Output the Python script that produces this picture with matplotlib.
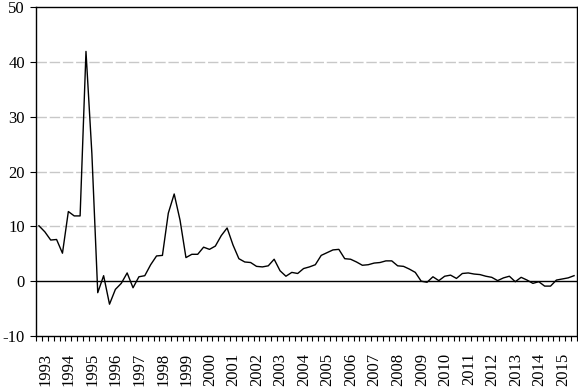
import matplotlib
matplotlib.use("Agg")
import matplotlib.pyplot as plt
import numpy as np

years = list(range(1993, 2016))
values = [10.1, 9.0, 7.5, 7.6, 5.1, 12.7, 11.9, 11.9, 41.9, 23.3,
          -2.1, 1.0, -4.2, -1.5, -0.4, 1.5, -1.2, 0.8, 1.0, 3.0,
          4.6, 4.7, 12.4, 15.9, 11.1, 4.3, 4.9, 4.9, 6.2, 5.8,
          6.4, 8.3, 9.7, 6.6, 4.1, 3.5, 3.4, 2.7, 2.6, 2.8,
          4.0, 1.9, 0.9, 1.6, 1.4, 2.3, 2.6, 3.0, 4.7, 5.2,
          5.7, 5.8, 4.1, 4.0, 3.5, 2.9, 3.0, 3.3, 3.4, 3.7,
          3.7, 2.8, 2.7, 2.2, 1.6, 0.0, -0.2, 0.8, 0.1, 0.9,
          1.1, 0.5, 1.4, 1.5, 1.3, 1.2, 0.9, 0.7, 0.1, 0.6,
          0.9, -0.1, 0.7, 0.2, -0.4, -0.1, -0.9, -0.9, 0.2, 0.4,
          0.6, 1.0]
y_ticks = [-10, 0, 10, 20, 30, 40, 50]

plt.rcParams['font.family'] = ['Liberation Serif', 'DejaVu Serif']

W, H = 578, 390
fig = plt.figure(figsize=(W / 100, H / 100), dpi=100)
ax = fig.add_axes([36 / W, (H - 336) / H, (577 - 36) / W, (336 - 7) / H])

n = len(values)
x = np.arange(n)
for g in [10, 20, 30, 40]:
    ax.axhline(g, color='#c8c8c8', lw=1.0, dashes=(7.5, 2.0), zorder=1)
ax.axhline(0, color='black', lw=1.0, zorder=2)
ax.plot(x, values, color='black', lw=1.0, zorder=3)

ax.set_xlim(-0.5, n - 0.5)
ax.set_ylim(-10, 50)
ax.set_yticks(y_ticks)
ax.set_yticklabels([str(v) for v in y_ticks])

ax.set_xticks([4 * k + 1.1 for k in range(len(years))])
ax.set_xticklabels([str(y) for y in years], rotation=90, va='top', ha='center')
ax.set_xticks(np.arange(n + 1) - 0.5, minor=True)
ax.tick_params(axis='x', which='major', length=0, pad=12, labelsize=12)
ax.tick_params(axis='x', which='minor', length=3.5, width=0.8, direction='out')
ax.tick_params(axis='y', length=4, width=0.8, direction='out', pad=4, labelsize=12)

for s in ax.spines.values():
    s.set_linewidth(1.0)

fig.savefig('out.png', dpi=100)
